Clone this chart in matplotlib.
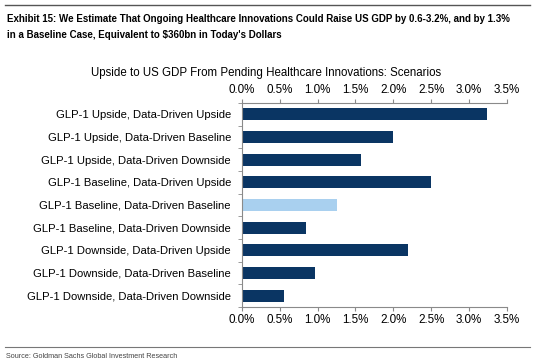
import numpy as np
import matplotlib.pyplot as plt
from matplotlib.ticker import FuncFormatter

scenarios = ["GLP-1 Upside, Data-Driven Upside",
             "GLP-1 Upside, Data-Driven Baseline",
             "GLP-1 Upside, Data-Driven Downside",
             "GLP-1 Baseline, Data-Driven Upside",
             "GLP-1 Baseline, Data-Driven Baseline",
             "GLP-1 Baseline, Data-Driven Downside",
             "GLP-1 Downside, Data-Driven Upside",
             "GLP-1 Downside, Data-Driven Baseline",
             "GLP-1 Downside, Data-Driven Downside"]
upside = [3.24, 2.0, 1.58, 2.5, 1.25, 0.84, 2.2, 0.96, 0.55]
highlight = "GLP-1 Baseline, Data-Driven Baseline"

title1 = "Exhibit 15: We Estimate That Ongoing Healthcare Innovations Could Raise US GDP by 0.6-3.2%, and by 1.3%"
title2 = "in a Baseline Case, Equivalent to $360bn in Today's Dollars"

dark = "#0a3563"
light = "#a9d0ef"
grey = "#8a8a8a"

plt.rcParams['font.family'] = ['Liberation Sans', 'DejaVu Sans']

fig = plt.figure(figsize=(5.33, 3.63), dpi=100)
ax = fig.add_axes([242/533, 1-307/363, 264.7/533, 204/363])

y = np.arange(len(scenarios))
colors = [light if s == highlight else dark for s in scenarios]
ax.barh(y, upside, height=0.53, color=colors)
ax.set_ylim(len(scenarios)-0.5, -0.5)
ax.set_xlim(0, 3.5)
ax.set_xticks(np.arange(0, 3.51, 0.5))
ax.xaxis.set_major_formatter(FuncFormatter(lambda v, p: f"{v:.1f}%"))
ax.tick_params(axis='x', top=True, labeltop=True, labelsize=8.4, length=3,
               color=grey, pad=2)

ax.set_yticks(y)
ax.set_yticklabels(scenarios, fontsize=8.15)
ax.tick_params(axis='y', length=0, pad=8)
ax.set_yticks(np.arange(-0.5, len(scenarios), 1), minor=True)
ax.tick_params(axis='y', which='minor', length=3, color=grey)

for side in ['left', 'top', 'bottom']:
    ax.spines[side].set_color(grey)
ax.spines['right'].set_visible(False)

fig.text(266/533, 1-73/363, "Upside to US GDP From Pending Healthcare Innovations: Scenarios",
         ha='center', va='center', fontsize=8.3)

fig.add_artist(plt.Line2D([0.01, 0.995], [1-5/363, 1-5/363], color="#555555", lw=1))
t1 = fig.text(7/533, 1-19/363, title1, ha='left', va='center', fontsize=9, fontweight='bold')
t2 = fig.text(7/533, 1-35/363, title2, ha='left', va='center', fontsize=9, fontweight='bold')

# shrink the header so it fits the width like the condensed original
r = fig.canvas.get_renderer()
w = t1.get_window_extent(r).width
size = 9 * 505 / w
t1.set_fontsize(size)
t2.set_fontsize(size)

fig.add_artist(plt.Line2D([0.01, 0.995], [1-347/363, 1-347/363], color="#777777", lw=0.8))
fig.text(6/533, 1-356/363, "Source: Goldman Sachs Global Investment Research",
         ha='left', va='center', fontsize=5.2, color="#444444")

fig.savefig("out.png", dpi=100)
